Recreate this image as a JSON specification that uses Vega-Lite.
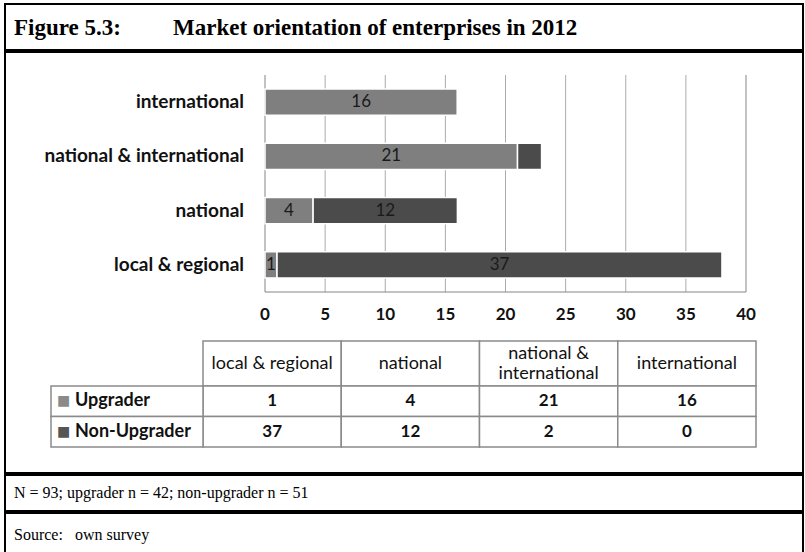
{
  "$schema": "https://vega.github.io/schema/vega-lite/v6.json",
  "background": "white",
  "padding": {"left": 4, "top": 3, "right": 3, "bottom": 2},
  "spacing": 0,
  "config": {"view": {"stroke": "#000000", "strokeWidth": 2}, "concat": {"spacing": 0}},
  "datasets": {
    "bars": [
      {"cat": "local & regional", "series": "Upgrader", "n": 1},
      {"cat": "local & regional", "series": "Non-Upgrader", "n": 37},
      {"cat": "national", "series": "Upgrader", "n": 4},
      {"cat": "national", "series": "Non-Upgrader", "n": 12},
      {"cat": "national & international", "series": "Upgrader", "n": 21},
      {"cat": "national & international", "series": "Non-Upgrader", "n": 2},
      {"cat": "international", "series": "Upgrader", "n": 16},
      {"cat": "international", "series": "Non-Upgrader", "n": 0}
    ],
    "ticks": [{"t": 0}, {"t": 5}, {"t": 10}, {"t": 15}, {"t": 20}, {"t": 25}, {"t": 30}, {"t": 35}, {"t": 40}],
    "header": [
      {"cat": "local & regional", "label": "local & regional"},
      {"cat": "national", "label": "national"},
      {"cat": "national & international", "label": ["national &", "international"]},
      {"cat": "international", "label": "international"}
    ]
  },
  "vconcat": [
    {
      "width": 798, "height": 46,
      "data": {"values": [{"t": "Figure 5.3:"}, {"t": "Market orientation of enterprises in 2012"}]},
      "mark": {"type": "text", "font": "Liberation Serif", "fontWeight": "bold", "fontSize": 23, "align": "left", "baseline": "middle", "color": "#000", "dy": 1},
      "encoding": {
        "x": {"field": "t", "type": "nominal", "sort": null, "scale": {"type": "point", "range": [9, 168], "padding": 0}, "axis": null},
        "text": {"field": "t"}
      }
    },
    {
      "width": 798, "height": 421,
      "layer": [
        {
          "data": {"name": "ticks"},
          "layer": [
            {
              "mark": {"type": "rule", "strokeWidth": 1},
              "encoding": {
                "x": {"field": "t", "type": "quantitative", "scale": {"domain": [0, 40], "range": [260, 741], "nice": false}, "axis": null},
                "y": {"datum": 0, "type": "quantitative", "scale": {"domain": [0, 1], "range": [23, 240], "nice": false}, "axis": null},
                "y2": {"datum": 1},
                "stroke": {"condition": {"test": "datum.t == 0 || datum.t == 40", "value": "#858585"}, "value": "#ababab"}
              }
            },
            {
              "mark": {"type": "text", "font": "Lato", "fontWeight": "bold", "fontSize": 17, "dy": 23, "baseline": "middle", "align": "center", "color": "#111111"},
              "encoding": {
                "x": {"field": "t", "type": "quantitative", "scale": {"domain": [0, 40], "range": [260, 741], "nice": false}, "axis": null},
                "y": {"datum": 1, "type": "quantitative", "scale": {"domain": [0, 1], "range": [23, 240], "nice": false}, "axis": null},
                "text": {"field": "t", "type": "quantitative"}
              }
            },
            {
              "data": {"values": [{}]},
              "mark": {"type": "rule", "color": "#858585", "strokeWidth": 1},
              "encoding": {
                "x": {"datum": 0, "type": "quantitative", "scale": {"domain": [0, 40], "range": [260, 741], "nice": false}, "axis": null},
                "x2": {"datum": 40},
                "y": {"datum": 1, "type": "quantitative", "scale": {"domain": [0, 1], "range": [23, 240], "nice": false}, "axis": null}
              }
            }
          ]
        },
        {
          "data": {"name": "bars"},
          "transform": [{"stack": "n", "groupby": ["cat"], "sort": [{"field": "series", "order": "descending"}], "as": ["x0", "x1"]}],
          "layer": [
            {
              "mark": {"type": "bar", "stroke": "white", "strokeWidth": 1.5},
              "encoding": {
                "x": {"field": "x0", "type": "quantitative", "scale": {"domain": [0, 40], "range": [260, 741], "nice": false}, "axis": null},
                "x2": {"field": "x1"},
                "y": {"field": "cat", "type": "nominal", "sort": ["international", "national & international", "national", "local & regional"], "scale": {"range": [23, 240], "paddingInner": 0.52, "paddingOuter": 0.26}, "axis": null},
                "color": {"field": "series", "type": "nominal", "scale": {"domain": ["Upgrader", "Non-Upgrader"], "range": ["#7f7f7f", "#4b4b4b"]}, "legend": null}
              }
            },
            {
              "transform": [
                {"filter": "datum.n > 0 && datum.n != 2"},
                {"fold": ["x0", "x1"], "as": ["edge", "v"]},
                {"aggregate": [{"op": "mean", "field": "v", "as": "mid"}], "groupby": ["cat", "series", "n"]}
              ],
              "mark": {"type": "text", "font": "Lato", "fontSize": 17, "color": "#1a1a1a", "baseline": "middle", "align": "center"},
              "encoding": {
                "x": {"field": "mid", "type": "quantitative", "scale": {"domain": [0, 40], "range": [260, 741], "nice": false}, "axis": null},
                "y": {"field": "cat", "type": "nominal", "sort": ["international", "national & international", "national", "local & regional"], "scale": {"range": [23, 240], "paddingInner": 0.52, "paddingOuter": 0.26}, "axis": null},
                "text": {"field": "n", "type": "quantitative"}
              }
            },
            {
              "transform": [{"filter": "datum.series == 'Upgrader'"}],
              "mark": {"type": "text", "font": "Lato", "fontWeight": "bold", "fontSize": 19, "align": "right", "baseline": "middle", "dx": -21, "color": "#111111"},
              "encoding": {
                "x": {"datum": 0, "type": "quantitative", "scale": {"domain": [0, 40], "range": [260, 741], "nice": false}, "axis": null},
                "y": {"field": "cat", "type": "nominal", "sort": ["international", "national & international", "national", "local & regional"], "scale": {"range": [23, 240], "paddingInner": 0.52, "paddingOuter": 0.26}, "axis": null},
                "text": {"field": "cat"}
              }
            }
          ]
        },
        {
          "data": {"name": "header"},
          "layer": [
            {
              "mark": {"type": "rect", "fill": "white", "stroke": "#8a8a8a", "strokeWidth": 1.5},
              "encoding": {
                "x": {"field": "cat", "type": "nominal", "sort": ["local & regional", "national", "national & international", "international"], "scale": {"range": [198, 751], "paddingInner": 0, "paddingOuter": 0}, "axis": null},
                "y": {"datum": "h", "type": "nominal", "scale": {"domain": ["h"], "range": [289, 334], "paddingInner": 0, "paddingOuter": 0}, "axis": null}
              }
            },
            {
              "transform": [{"filter": "datum.cat != 'national & international'"}],
              "mark": {"type": "text", "font": "Lato", "fontSize": 18, "baseline": "middle", "color": "#111111"},
              "encoding": {
                "x": {"field": "cat", "type": "nominal", "sort": ["local & regional", "national", "national & international", "international"], "scale": {"range": [198, 751], "paddingInner": 0, "paddingOuter": 0}, "axis": null},
                "y": {"datum": "h", "type": "nominal", "scale": {"domain": ["h"], "range": [289, 334], "paddingInner": 0, "paddingOuter": 0}, "axis": null},
                "text": {"field": "label"}
              }
            },
            {
              "transform": [{"filter": "datum.cat == 'national & international'"}],
              "mark": {"type": "text", "font": "Lato", "fontSize": 18, "baseline": "middle", "color": "#111111", "lineHeight": 20, "dy": -10},
              "encoding": {
                "x": {"field": "cat", "type": "nominal", "sort": ["local & regional", "national", "national & international", "international"], "scale": {"range": [198, 751], "paddingInner": 0, "paddingOuter": 0}, "axis": null},
                "y": {"datum": "h", "type": "nominal", "scale": {"domain": ["h"], "range": [289, 334], "paddingInner": 0, "paddingOuter": 0}, "axis": null},
                "text": {"field": "label"}
              }
            }
          ]
        },
        {
          "data": {"name": "bars"},
          "layer": [
            {
              "mark": {"type": "rect", "fill": "white", "stroke": "#8a8a8a", "strokeWidth": 1.5},
              "encoding": {
                "x": {"field": "cat", "type": "nominal", "sort": ["local & regional", "national", "national & international", "international"], "scale": {"range": [198, 751], "paddingInner": 0, "paddingOuter": 0}, "axis": null},
                "y": {"field": "series", "type": "nominal", "sort": ["Upgrader", "Non-Upgrader"], "scale": {"range": [334, 395], "paddingInner": 0, "paddingOuter": 0}, "axis": null}
              }
            },
            {
              "mark": {"type": "text", "font": "Lato", "fontWeight": "bold", "fontSize": 17, "baseline": "middle", "color": "#111111"},
              "encoding": {
                "x": {"field": "cat", "type": "nominal", "sort": ["local & regional", "national", "national & international", "international"], "scale": {"range": [198, 751], "paddingInner": 0, "paddingOuter": 0}, "axis": null},
                "y": {"field": "series", "type": "nominal", "sort": ["Upgrader", "Non-Upgrader"], "scale": {"range": [334, 395], "paddingInner": 0, "paddingOuter": 0}, "axis": null},
                "text": {"field": "n", "type": "quantitative"}
              }
            }
          ]
        },
        {
          "data": {"name": "bars"},
          "transform": [{"filter": "datum.cat == 'local & regional'"}],
          "layer": [
            {
              "mark": {"type": "rect", "fill": "white", "stroke": "#8a8a8a", "strokeWidth": 1.5},
              "encoding": {
                "x": {"datum": "L", "type": "nominal", "scale": {"domain": ["L"], "range": [46, 198], "paddingInner": 0, "paddingOuter": 0}, "axis": null},
                "y": {"field": "series", "type": "nominal", "sort": ["Upgrader", "Non-Upgrader"], "scale": {"range": [334, 395], "paddingInner": 0, "paddingOuter": 0}, "axis": null}
              }
            },
            {
              "mark": {"type": "text", "text": "■", "fontSize": 14, "align": "left", "baseline": "middle", "dx": 6, "font": "DejaVu Sans"},
              "encoding": {
                "x": {"datum": "L", "type": "nominal", "scale": {"domain": ["L"], "range": [46, 198], "paddingInner": 0, "paddingOuter": 0}, "bandPosition": 0, "axis": null},
                "y": {"field": "series", "type": "nominal", "sort": ["Upgrader", "Non-Upgrader"], "scale": {"range": [334, 395], "paddingInner": 0, "paddingOuter": 0}, "axis": null},
                "color": {"field": "series", "type": "nominal", "scale": {"domain": ["Upgrader", "Non-Upgrader"], "range": ["#8a8a8a", "#555555"]}, "legend": null}
              }
            },
            {
              "mark": {"type": "text", "font": "Lato", "fontWeight": "bold", "fontSize": 18, "align": "left", "baseline": "middle", "dx": 24, "color": "#111111"},
              "encoding": {
                "x": {"datum": "L", "type": "nominal", "scale": {"domain": ["L"], "range": [46, 198], "paddingInner": 0, "paddingOuter": 0}, "bandPosition": 0, "axis": null},
                "y": {"field": "series", "type": "nominal", "sort": ["Upgrader", "Non-Upgrader"], "scale": {"range": [334, 395], "paddingInner": 0, "paddingOuter": 0}, "axis": null},
                "text": {"field": "series"}
              }
            }
          ]
        }
      ],
      "resolve": {"scale": {"x": "independent", "y": "independent", "color": "independent"}}
    },
    {
      "width": 798, "height": 36,
      "data": {"values": [{"t": "N = 93; upgrader n = 42; non-upgrader n = 51"}]},
      "mark": {"type": "text", "font": "Liberation Serif", "fontSize": 16, "align": "left", "baseline": "middle", "color": "#000"},
      "encoding": {
        "x": {"field": "t", "type": "nominal", "scale": {"type": "point", "range": [9, 9], "padding": 0}, "axis": null},
        "text": {"field": "t"}
      }
    },
    {
      "width": 798, "height": 44,
      "data": {"values": [{"t": "Source:"}, {"t": "own survey"}]},
      "mark": {"type": "text", "font": "Liberation Serif", "fontSize": 16, "align": "left", "baseline": "middle", "color": "#000"},
      "encoding": {
        "x": {"field": "t", "type": "nominal", "sort": null, "scale": {"type": "point", "range": [9, 70], "padding": 0}, "axis": null},
        "text": {"field": "t"}
      }
    }
  ]
}
